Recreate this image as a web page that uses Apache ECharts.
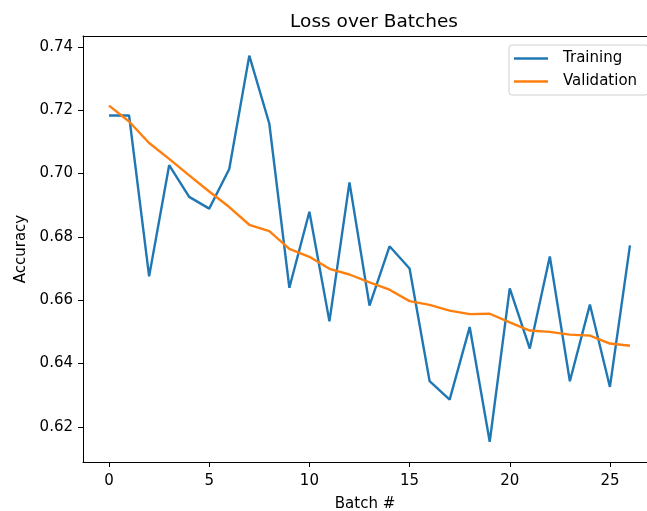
<!DOCTYPE html>
<html>
<head>
<meta charset="utf-8">
<script src="https://cdn.jsdelivr.net/npm/echarts@6/dist/echarts.min.js"></script>
<style>html,body{margin:0;padding:0;background:#fff}#c{width:647px;height:511px}</style>
</head>
<body>
<div id="c"></div>
<script>
var batches = [0,1,2,3,4,5,6,7,8,9,10,11,12,13,14,15,16,17,18,19,20,21,22,23,24,25,26];
var training = [0.7183,0.7183,0.6675,0.7026,0.6926,0.6889,0.7014,0.7372,0.7157,0.6639,0.6879,0.6533,0.6972,0.6583,0.6770,0.6700,0.6344,0.6286,0.6515,0.6153,0.6637,0.6447,0.6738,0.6344,0.6586,0.6326,0.6773];
var validation = [0.7214,0.7164,0.7096,0.7046,0.6994,0.6943,0.6894,0.6838,0.6818,0.6762,0.6737,0.6699,0.6681,0.6656,0.6633,0.6597,0.6585,0.6567,0.6556,0.6557,0.6530,0.6504,0.6500,0.6491,0.6488,0.6463,0.6456];
var xTicks = [0,5,10,15,20,25];
var yTicks = [0.62,0.64,0.66,0.68,0.70,0.72,0.74];

var font = 'DejaVu Sans';
function pairs(ys){ return batches.map(function(b,i){ return [b, ys[i]]; }); }

var chart = echarts.init(document.getElementById('c'), null, {renderer:'canvas'});
chart.setOption({
  animation: false,
  backgroundColor: '#fff',
  title: {
    text: 'Loss over Batches',
    left: 369, top: 8, textAlign: 'center',
    textStyle: {fontFamily: font, fontSize: 18.5, fontWeight: 'normal', color: '#000'}
  },
  legend: {
    orient: 'vertical',
    left: 509, top: 45,
    padding: [6, 11, 6, 5],
    itemGap: 8,
    itemWidth: 34, itemHeight: 2.5,
    icon: 'rect',
    backgroundColor: '#fff',
    borderColor: '#d0d0d0', borderWidth: 1, borderRadius: 3,
    textStyle: {fontFamily: font, fontSize: 15, color: '#000', padding: [0,0,0,10], lineHeight: 15},
    data: ['Training', 'Validation']
  },
  grid: {
    left: 83, top: 36, right: 0, bottom: 49,
    containLabel: false, outerBoundsMode: 'none'
  },
  xAxis: [{
    type: 'value', min: -1.3, max: 26.85,
    name: 'Batch #', nameLocation: 'middle', nameGap: 35,
    nameTextStyle: {fontFamily: font, fontSize: 15, color: '#000'},
    axisLine: {show: true, onZero: false, lineStyle: {color: '#000', width: 1}},
    axisTick: {show: true, length: 5, lineStyle: {color: '#000'}, customValues: xTicks},
    axisLabel: {fontFamily: font, fontSize: 15, color: '#000', margin: 12, customValues: xTicks},
    splitLine: {show: false}
  }, {
    type: 'value', min: -1.3, max: 26.85, position: 'top',
    axisLine: {show: true, onZero: false, lineStyle: {color: '#000', width: 1}},
    axisTick: {show: false}, axisLabel: {show: false}, splitLine: {show: false}
  }],
  yAxis: {
    type: 'value', min: 0.6089, max: 0.7434,
    name: 'Accuracy', nameLocation: 'middle', nameGap: 54, nameRotate: 90,
    nameTextStyle: {fontFamily: font, fontSize: 15, color: '#000'},
    axisLine: {show: true, onZero: false, lineStyle: {color: '#000', width: 1}},
    axisTick: {show: true, length: 5, lineStyle: {color: '#000'}, customValues: yTicks},
    axisLabel: {fontFamily: font, fontSize: 15, color: '#000', margin: 10, customValues: yTicks,
      formatter: function(v){ return v.toFixed(2); }},
    splitLine: {show: false}
  },
  series: [
    {name: 'Training', type: 'line', data: pairs(training), symbol: 'none',
     lineStyle: {color: '#1f77b4', width: 2.4}, itemStyle: {color: '#1f77b4'}},
    {name: 'Validation', type: 'line', data: pairs(validation), symbol: 'none',
     lineStyle: {color: '#ff7f0e', width: 2.4}, itemStyle: {color: '#ff7f0e'}}
  ]
});
</script>
</body>
</html>
